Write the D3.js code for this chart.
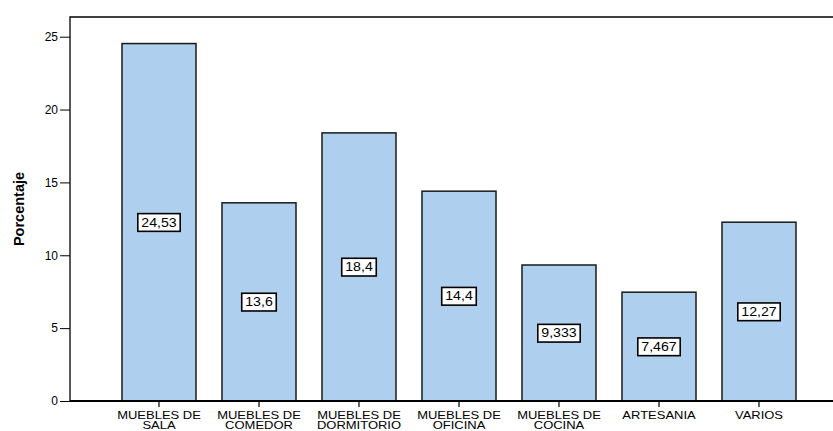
<!DOCTYPE html>
<html><head><meta charset="utf-8">
<script src="https://cdn.jsdelivr.net/npm/d3@7"></script>
<style>body{margin:0;background:#fff}svg{display:block}</style>
</head><body>
<svg id="c" width="833" height="431"></svg>
<script>
const categories = [["MUEBLES DE","SALA"],["MUEBLES DE","COMEDOR"],["MUEBLES DE","DORMITORIO"],["MUEBLES DE","OFICINA"],["MUEBLES DE","COCINA"],["ARTESANIA"],["VARIOS"]];
const values = [24.53, 13.6, 18.4, 14.4, 9.333, 7.467, 12.27];
const valueLabels = ["24,53","13,6","18,4","14,4","9,333","7,467","12,27"];
const yTicks = [0,5,10,15,20,25];

const FONT = "Arial, Liberation Sans, sans-serif";
const svg = d3.select("#c");
const pLeft = 70, pTop = 17, pRight = 840, pBottom = 401;
const x = d3.scaleBand().domain(d3.range(values.length)).range([109, 809]).paddingInner(0.26).paddingOuter(0.13);
const y = d3.scaleLinear().domain([0, 25]).range([pBottom, 36.7]);

// frame
svg.append("path").attr("d", `M${pLeft},${pBottom}V${pTop}H${pRight}`).attr("fill","none").attr("stroke","#000").attr("stroke-width",1.3);

// bars
svg.selectAll("rect.bar").data(values).join("rect").attr("class","bar")
  .attr("x",(d,i)=>x(i)).attr("width",x.bandwidth())
  .attr("y",d=>y(d)).attr("height",d=>pBottom-y(d))
  .attr("fill","#aecfee").attr("stroke","#1a1a1a").attr("stroke-width",1.5);

svg.append("line").attr("x1",pLeft).attr("x2",pRight).attr("y1",pBottom).attr("y2",pBottom).attr("stroke","#000").attr("stroke-width",1.8);

// y axis
const ya = svg.append("g").attr("transform",`translate(${pLeft},0)`)
  .call(d3.axisLeft(y).tickValues(yTicks).tickSize(10).tickPadding(2).tickFormat(d3.format("d")));
ya.select(".domain").remove();
ya.selectAll("line").attr("stroke","#000").attr("stroke-width",1);
ya.selectAll("text").attr("font-family",FONT).attr("font-size",12).attr("fill","#000");

svg.append("text").attr("transform",`translate(24,209) rotate(-90)`)
  .attr("text-anchor","middle").attr("font-family",FONT)
  .attr("font-weight","bold").attr("font-size",14.5).attr("fill","#000").text("Porcentaje");

// x ticks
const xa = svg.append("g").attr("transform",`translate(0,${pBottom})`)
  .call(d3.axisBottom(x).tickSize(6).tickFormat(""));
xa.select(".domain").remove();
xa.selectAll("line").attr("stroke","#000").attr("stroke-width",1.2);
svg.selectAll("text.cat").data(categories).join("text").attr("class","cat")
  .attr("text-anchor","middle").attr("font-family",FONT).attr("font-size",10).attr("fill","#000")
  .attr("transform",(d,i)=>`translate(${x(i)+x.bandwidth()/2},418.5) scale(1.3,1)`)
  .each(function(d){
    const t = d3.select(this);
    d.forEach((s,k)=>t.append("tspan").attr("x",0).attr("dy",k?10.5:0).text(s));
  });

// value labels
const lg = svg.selectAll("g.lab").data(values).join("g").attr("class","lab")
  .attr("transform",(d,i)=>`translate(${x(i)+x.bandwidth()/2},${y(d/2)})`);
lg.append("text").attr("text-anchor","middle").attr("dy","0.36em")
  .attr("font-family",FONT).attr("font-size",12).attr("fill","#000")
  .attr("transform","scale(1.18,1)")
  .text((d,i)=>valueLabels[i]);
lg.each(function(){
  const g = d3.select(this); const bb = g.select("text").node().getBBox();
  const w = bb.width*1.18;
  g.insert("rect","text").attr("x",-w/2-3.5).attr("y",bb.y-2).attr("width",w+7).attr("height",bb.height+4)
   .attr("fill","#fff").attr("stroke","#000").attr("stroke-width",1.6);
});
</script>
</body></html>
